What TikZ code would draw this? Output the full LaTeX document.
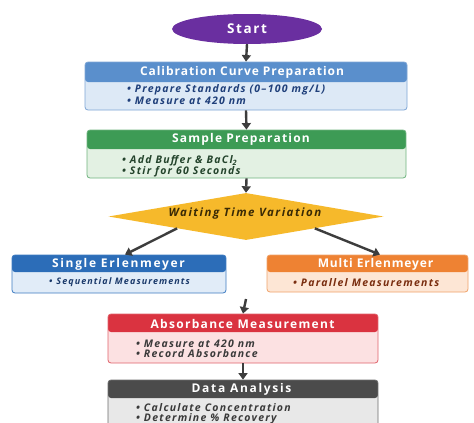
\documentclass[tikz,border=0pt]{standalone}
\usepackage{fontspec}
\setmainfont{Open Sans}
\newfontfamily\hfont[LetterSpace=10]{Open Sans}
\newfontfamily\bfont[LetterSpace=12]{Open Sans}
\usetikzlibrary{shapes.geometric,arrows.meta}
\definecolor{startc}{HTML}{6A2FA0}
\definecolor{calB}{HTML}{7FA6D6}\definecolor{calF}{HTML}{DDE9F6}\definecolor{calH}{HTML}{5A8FCC}\definecolor{calT}{HTML}{1F3F7A}
\definecolor{samB}{HTML}{6FB47F}\definecolor{samF}{HTML}{E3F1E3}\definecolor{samH}{HTML}{3D9B55}\definecolor{samT}{HTML}{24442C}
\definecolor{diaF}{HTML}{F6B92B}\definecolor{diaT}{HTML}{3A2A05}
\definecolor{sinB}{HTML}{3E7CC2}\definecolor{sinF}{HTML}{E1ECF8}\definecolor{sinH}{HTML}{2C6DB8}\definecolor{sinT}{HTML}{1B3A6B}
\definecolor{mulB}{HTML}{F0A36A}\definecolor{mulF}{HTML}{FDE6D5}\definecolor{mulH}{HTML}{EE8233}\definecolor{mulT}{HTML}{7A2E10}
\definecolor{absB}{HTML}{E0636B}\definecolor{absF}{HTML}{FCE1E2}\definecolor{absH}{HTML}{DA3340}\definecolor{absT}{HTML}{3A3A3A}
\definecolor{datB}{HTML}{6E6E6E}\definecolor{datF}{HTML}{E8E8E8}\definecolor{datH}{HTML}{4B4B4B}\definecolor{datT}{HTML}{3A3A3A}
\definecolor{arrc}{HTML}{3D3D3D}
\begin{document}
\begin{tikzpicture}[x=1pt,y=-1pt,
  card/.style n args={4}{draw=#1, fill=#2, rounded corners=3pt, line width=0.8pt, inner sep=0pt,
    path picture={\fill[#3] (path picture bounding box.north west) rectangle ([yshift=-#4]path picture bounding box.north east);}},
  htxt/.style={text=white, font=\hfont\bfseries\fontsize{12}{14}\selectfont, inner sep=0pt},
  btxt/.style={anchor=west, font=\bfont\bfseries\itshape\fontsize{10.5}{12}\selectfont, inner sep=0pt},
  arr/.style={draw=arrc, line width=2.4pt, -{Triangle[length=6.5pt,width=9pt]}}]
\clip (0,0) rectangle (474,423);
\fill[white] (0,0) rectangle (474,423);
% Start
\node[ellipse, fill=startc, minimum width=150, minimum height=30, inner sep=0pt] (start) at (247,29) {};
\node[htxt, font=\hfont\bfseries\fontsize{13.5}{15}\selectfont\addfontfeature{LetterSpace=12}] (startT) at (247,29) {Start};
% Calibration
\node[card={calB}{calF}{calH}{20pt}, minimum width=322, minimum height=48] (calib) at (246,86) {};
\node[htxt, font=\hfont\bfseries\fontsize{12}{14}\selectfont\addfontfeature{LetterSpace=8}] (calibT) at (242,72) {Calibration Curve Preparation};
\node[btxt, text=calT] (calib1) at (127,89.5) {•\hspace{4pt}Prepare Standards (0–100 mg/L)};
\node[btxt, text=calT] (calib2) at (127,100.5) {•\hspace{4pt}Measure at 420 nm};
% Sample
\node[card={samB}{samF}{samH}{19pt}, minimum width=319, minimum height=48] (sample) at (246.5,154) {};
\node[htxt] (sampleT) at (241,139.5) {Sample Preparation};
\node[btxt, text=samT] (sample1) at (122,161) {•\hspace{4pt}Add Buffer \& BaCl\textsubscript{2}};
\node[btxt, text=samT] (sample2) at (122,172) {•\hspace{4pt}Stir for 60 Seconds};
% Diamond
\node[diamond, fill=diaF, minimum width=275, minimum height=47, inner sep=0pt] (dia) at (246,216.5) {};
\node[font=\bfont\bfseries\itshape\fontsize{11.5}{13}\selectfont\addfontfeature{LetterSpace=13}, text=diaT, inner sep=0pt] (diaT) at (245,214) {Waiting Time Variation};
% Single
\node[card={sinB}{sinF}{sinH}{17pt}, minimum width=214, minimum height=38] (single) at (119,274) {};
\node[htxt, font=\hfont\bfseries\fontsize{12}{14}\selectfont\addfontfeature{LetterSpace=14}] (singleT) at (118.5,264) {Single Erlenmeyer};
\node[btxt, text=sinT, font=\bfont\bfseries\itshape\fontsize{9}{11}\selectfont] (single1) at (49,282.5) {•\hspace{4pt}Sequential Measurements};
% Multi
\node[card={mulB}{mulF}{mulH}{17pt}, minimum width=201, minimum height=37] (multi) at (367.5,273.5) {};
\node[htxt, font=\hfont\bfseries\fontsize{12}{14}\selectfont\addfontfeature{LetterSpace=7}] (multiT) at (375.5,264) {Multi Erlenmeyer};
\node[btxt, text=mulT] (multi1) at (293,282.5) {•\hspace{4pt}Parallel Measurements};
% Absorbance
\node[card={absB}{absF}{absH}{18pt}, minimum width=270, minimum height=49] (absorb) at (243,338.5) {};
\node[htxt, font=\hfont\bfseries\fontsize{12}{14}\selectfont\addfontfeature{LetterSpace=11}] (absorbT) at (242.5,323.5) {Absorbance Measurement};
\node[btxt, text=absT] (absorb1) at (136,343.5) {•\hspace{4pt}Measure at 420 nm};
\node[btxt, text=absT] (absorb2) at (136,354) {•\hspace{4pt}Record Absorbance};
% Data
\node[card={datB}{datF}{datH}{18pt}, minimum width=270, minimum height=70] (data) at (243,415) {};
\node[htxt, font=\hfont\bfseries\fontsize{12}{14}\selectfont\addfontfeature{LetterSpace=14}] (dataT) at (241.5,389) {Data Analysis};
\node[btxt, text=datT] (data1) at (136,408) {•\hspace{4pt}Calculate Concentration};
\node[btxt, text=datT] (data2) at (136,418.5) {•\hspace{4pt}Determine \% Recovery};
% Arrows
\draw[arr] (start.south) -- (calib.north);
\draw[arr] (calib.south) -- (sample.north);
\draw[arr] (sample.south) -- (dia.north);
\draw[arr] (dia.south west) -- ([xshift=6pt]single.north);
\draw[arr] (dia.south east) -- ([xshift=12.5pt]multi.north);
\coordinate (gap) at (246,299);
\draw[arr] (gap) -- (absorb.north);
\draw[arr] (absorb.south) -- (data.north);
\end{tikzpicture}
\end{document}
